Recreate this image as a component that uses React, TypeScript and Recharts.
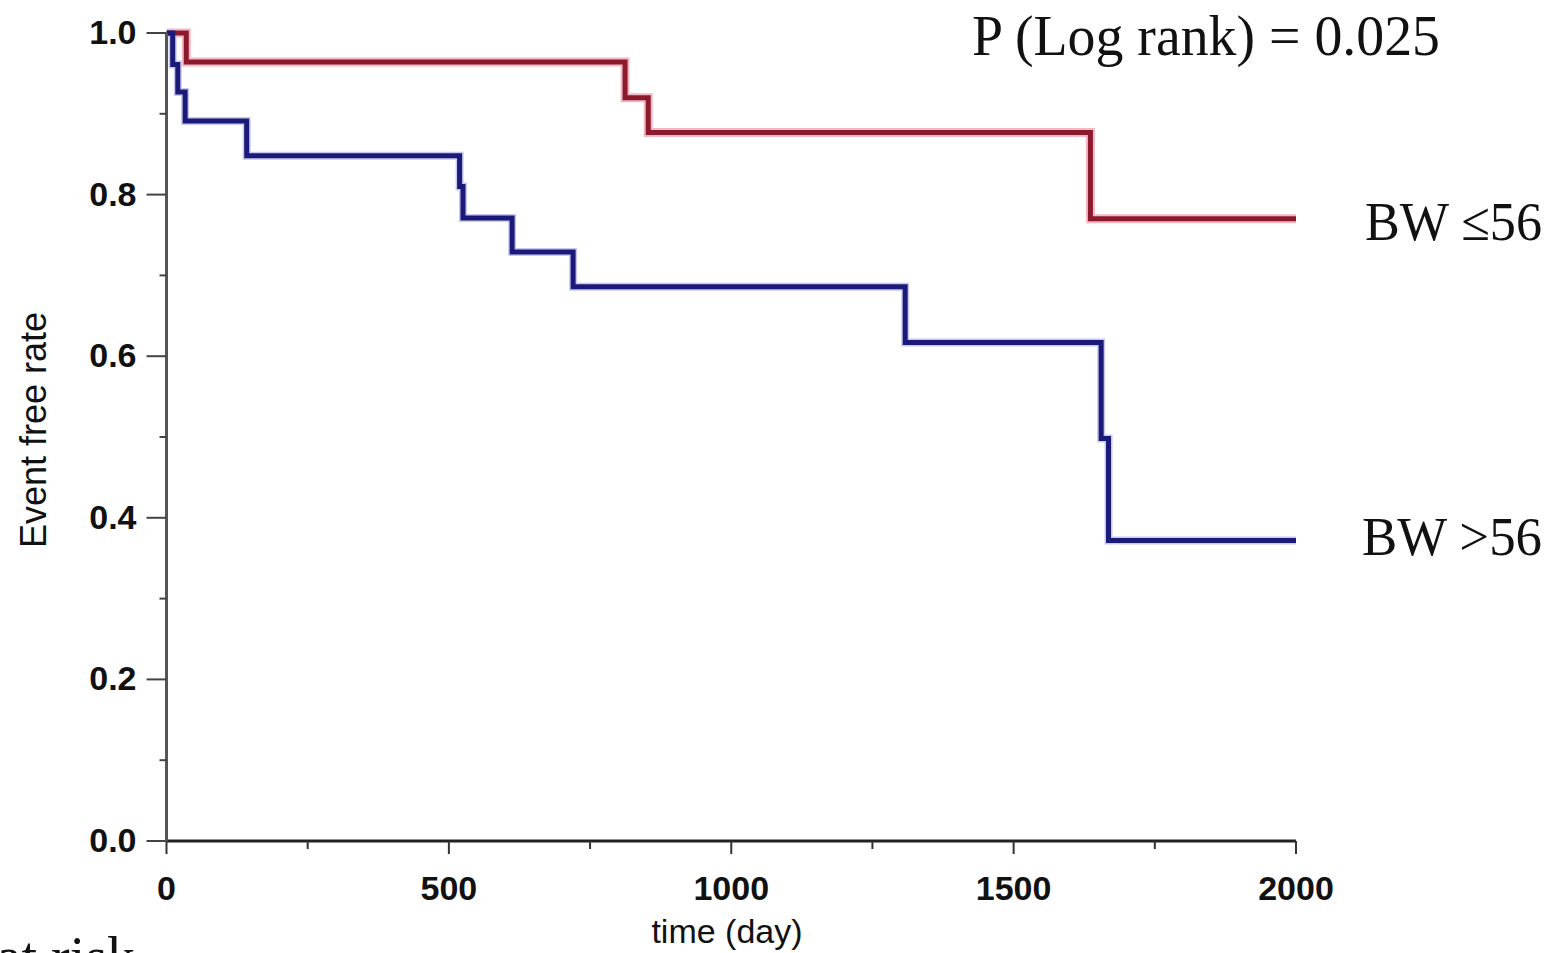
import React from 'react';
import { LineChart, Line, XAxis, YAxis } from 'recharts';

// Kaplan-Meier steps (time in days, survival)
const redTimes = [0, 35, 812, 853, 1636, 2000];
const redRates = [1, 0.964, 0.92, 0.877, 0.77, 0.77];
const blueTimes = [0, 11, 20, 33, 142, 519, 525, 612, 720, 1308, 1655, 1668, 2000];
const blueRates = [1, 0.961, 0.927, 0.891, 0.848, 0.81, 0.771, 0.729, 0.686, 0.617, 0.498, 0.372, 0.372];

const xTicks = [0, 250, 500, 750, 1000, 1250, 1500, 1750, 2000];
const yTicks = [0, 0.1, 0.2, 0.3, 0.4, 0.5, 0.6, 0.7, 0.8, 0.9, 1.0];

const redData = redTimes.map((t, i) => ({ t, s: redRates[i] }));
const blueData = blueTimes.map((t, i) => ({ t, s: blueRates[i] }));

const W = 1556;
const H = 953;
const LEFT = 166.5;
const TOP = 33;
const RIGHT = 260;
const BOTTOM = 112;
const YAXW = 80;
const XAXH = 60;

const sans = '"Liberation Sans", Arial, sans-serif';
const serif = '"Liberation Serif", "Times New Roman", serif';

const XTick = (props: any) => {
  const { x, y, payload } = props;
  const major = payload.value % 500 === 0;
  return (
    <g>
      <line x1={x} x2={x} y1={y} y2={y + (major ? 13 : 8)} stroke="#333" strokeWidth={2} />
      {major && (
        <text x={x} y={y + 59} textAnchor="middle" fontFamily={sans} fontWeight="bold" fontSize={34} fill="#111">
          {payload.value}
        </text>
      )}
    </g>
  );
};

const YTick = (props: any) => {
  const { x, y, payload } = props;
  const k = Math.round(payload.value * 10);
  const major = k % 2 === 0;
  return (
    <g>
      <line x1={x} x2={x - (major ? 20 : 7)} y1={y} y2={y} stroke="#444" strokeWidth={2} />
      {major && (
        <text x={x - 30} y={y + 11} textAnchor="end" fontFamily={sans} fontWeight="bold" fontSize={34} fill="#111">
          {(k / 10).toFixed(1)}
        </text>
      )}
    </g>
  );
};

export default function App() {
  return (
    <div style={{ position: 'fixed', left: 0, top: 0, width: W, height: H, overflow: 'hidden', background: '#fff' }}>
      <LineChart
        width={W}
        height={H}
        margin={{ top: TOP, left: LEFT - YAXW, right: RIGHT, bottom: BOTTOM - XAXH }}
      >
        <XAxis
          type="number"
          dataKey="t"
          domain={[0, 2000]}
          ticks={xTicks}
          tickSize={0}
          tickMargin={0}
          tickLine={false}
          tick={<XTick />}
          axisLine={{ stroke: '#222', strokeWidth: 3 }}
          height={XAXH}
          allowDataOverflow
          interval={0}
        />
        <YAxis
          type="number"
          dataKey="s"
          domain={[0, 1]}
          ticks={yTicks}
          tickSize={0}
          tickMargin={0}
          tickLine={false}
          tick={<YTick />}
          axisLine={{ stroke: '#555', strokeWidth: 3 }}
          width={YAXW}
          interval={0}
        />
        <Line data={redData} dataKey="s" type="stepAfter" stroke="#f2b8c4" strokeWidth={9} dot={false} isAnimationActive={false} />
        <Line data={blueData} dataKey="s" type="stepAfter" stroke="#c8c8f0" strokeWidth={8} dot={false} isAnimationActive={false} />
        <Line data={redData} dataKey="s" type="stepAfter" stroke="#8a1a2c" strokeWidth={5} dot={false} isAnimationActive={false} />
        <Line data={blueData} dataKey="s" type="stepAfter" stroke="#1c1a78" strokeWidth={5} dot={false} isAnimationActive={false} />
        <text x={33} y={430} transform="rotate(-90 33 430)" textAnchor="middle" dominantBaseline="central" fontFamily={sans} fontSize={36} fill="#111">
          Event free rate
        </text>
        <text x={727} y={943} textAnchor="middle" fontFamily={sans} fontSize={34} fill="#111">
          time (day)
        </text>
        <text x={972} y={55} fontFamily={serif} fontSize={56} fill="#111" textLength={468} lengthAdjust="spacingAndGlyphs">
          P (Log rank) = 0.025
        </text>
        <text x={1365} y={240} fontFamily={serif} fontSize={55} fill="#111" textLength={177} lengthAdjust="spacingAndGlyphs">
          BW ≤56
        </text>
        <text x={1362} y={555} fontFamily={serif} fontSize={55} fill="#111" textLength={180} lengthAdjust="spacingAndGlyphs">
          BW &gt;56
        </text>
        <text x={135} y={976} textAnchor="end" fontFamily={serif} fontSize={56} fill="#111">
          No. at risk
        </text>
      </LineChart>
    </div>
  );
}
